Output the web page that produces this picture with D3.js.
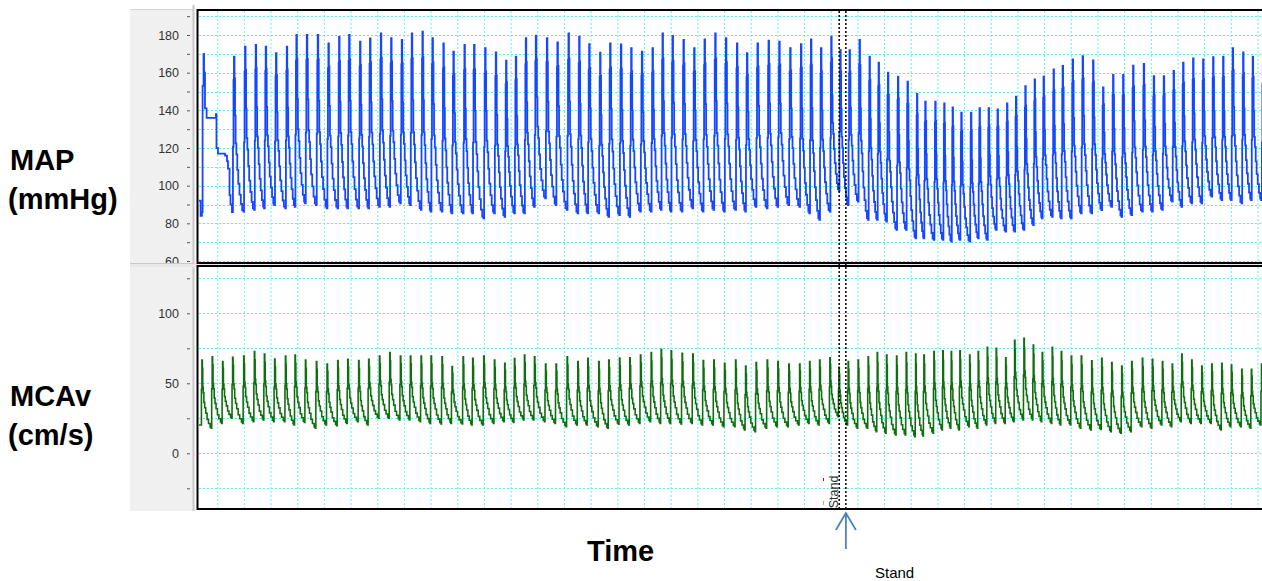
<!DOCTYPE html>
<html>
<head>
<meta charset="utf-8">
<script src="https://cdn.jsdelivr.net/npm/d3@7"></script>
<style>
  body { margin: 0; background: #fff; }
  .tick text { font-family: "Liberation Sans", Arial, sans-serif; font-size: 12.5px; fill: #333; }
  .bigLabel { font-family: "Liberation Sans", Arial, sans-serif; font-weight: bold; font-size: 29px; fill: #000; }
</style>
</head>
<body>
<div id="chart"></div>
<script>
// beat peak times (s), shared by both channels
var beatT = [-1.08, -0.31, 0.47, 1.22, 2.05, 2.85, 3.60, 4.37, 5.18, 5.90, 6.68, 7.50, 8.30, 9.10, 9.85,
  10.67, 11.42, 12.23, 13.00, 13.80, 14.55, 15.35, 16.10, 16.92, 17.67, 18.50, 19.22, 20.05, 20.85,
  21.62, 22.35, 23.10, 23.85, 24.68, 25.47, 26.30, 27.10, 27.85, 28.67, 29.42, 30.23, 31.00, 31.80,
  32.60, 33.35, 34.10, 34.92, 35.72, 36.50, 37.30, 38.10, 38.93, 39.68, 40.47, 41.30, 42.10, 42.92,
  43.73, 44.48, 45.23, 46.00, 46.68, 47.37, 48.12, 48.87, 49.55, 50.25, 51.00, 51.72, 52.43, 53.05,
  53.80, 54.47, 55.10, 55.75, 56.48, 57.12, 57.80, 58.47, 59.18, 59.85, 60.55, 61.25, 61.92, 62.67,
  63.35, 64.10, 64.85, 65.63, 66.38, 67.13, 67.88, 68.63, 69.43, 70.18, 70.93, 71.67, 72.38, 73.13,
  73.88, 74.63, 75.38, 76.10, 76.88, 77.60, 78.36];

// MAP (mmHg) systolic peak / diastolic foot per beat
var mapSys = [null, null, null, 168.5, 173.8, 174.7, 173.8, 170.3, 173.8, 180, 180, 180, 175.6, 179, 180,
  176.5, 178.2, 180.9, 178.3, 177.4, 180.9, 181.8, 178.3, 175.6, 171.2, 174.7, 174.7, 173, 170.8,
  166.4, 168.5, 178.3, 179.7, 178.3, 176.1, 180.9, 179.1, 175.1, 170.6, 175.6, 175, 173, 171.2, 173,
  180.9, 179.5, 177.4, 173, 177.7, 180.9, 178.3, 175.6, 170.3, 175.6, 177, 176.5, 173, 175.2, 177.7,
  173, 179.1, 172.1, 172, 177.4, 168.5, 165.3, 160, 157.9, 155.2, 148.7, 144.6, 144.6, 143.7, 141.6,
  138.8, 138.8, 141.1, 141.1, 140.5, 143.7, 147.2, 152.9, 156.4, 157.9, 161.8, 163.6, 167.1, 168.8,
  166.5, 152.2, 158.8, 158.8, 163.7, 164.6, 158.2, 158.2, 160.9, 165.3, 167.6, 167.1, 168.2, 168.5,
  173, 170.8, 168.5, 165];
var mapDia = [null, null, null, 86, 86.2, 87.1, 88, 89.7, 88, 88.8, 90.6, 89.7, 88, 88, 88, 88, 88, 88.8,
  88.8, 90.6, 89.7, 87.1, 86.2, 86.2, 85.3, 85.3, 85.3, 82.7, 85.3, 83.5, 85.3, 85.3, 88.8, 93.3,
  89.7, 87.1, 85.3, 85.3, 85.3, 83.5, 84.4, 83.5, 86.2, 86.2, 87.1, 86.2, 86.2, 88, 86.2, 87.1, 86.2,
  87.1, 86.2, 88.8, 88, 88.8, 89.7, 88.8, 85.3, 81.8, 86.2, 97.3, 89.7, 91.5, 81.8, 81.8, 80.9, 76.5,
  76.5, 72, 72, 71.2, 71.2, 70.3, 71.2, 70.3, 72, 71.2, 76.5, 75.6, 75.6, 76.5, 79.1, 82.7, 83.5, 82.7,
  82.7, 85.3, 85.3, 87, 88.8, 83.5, 84.4, 86.2, 86.2, 87.1, 91.5, 88.8, 90.6, 90.6, 94.2, 92.4, 92.4,
  90.6, 92.4, 92.4];
// MAP calibration step at the start of the record
var mapLeadT = [-1.40, -1.28, -1.18, -1.13, -1.06, -1.02, -0.95, -0.83, -0.13, -0.09, 0.02, 0.55, 0.70, 0.77, 0.89, 0.96, 1.07];
var mapLeadV = [92, 84, 86, 153, 170, 160, 141, 136, 138, 120, 117, 116, 113, 109, 95, 90, 86];

// MCAv (cm/s) peak / foot per beat
var mcaSys = [66.6, 69, 65.5, 68.6, 69.5, 72.6, 70.9, 67.3, 69.5, 70.2, 66.6, 65.5, 63.8, 66.2, 67.1,
  66.2, 67.1, 69.5, 71.9, 69.5, 69.5, 69.5, 69.5, 69, 62, 69, 67.9, 69.5, 66.6, 64.3, 67.6, 70.2, 69,
  63.8, 63.8, 69, 65.5, 67.9, 65.5, 66.6, 68, 68.3, 70.2, 71.9, 74.3, 73.3, 71.4, 70.9, 66.2, 66.6,
  64.3, 66.6, 62.4, 64.8, 66.6, 65.5, 63.8, 63.8, 65.5, 66.6, 68.3, 61.4, 65.5, 66.6, 69, 71.9, 70.2,
  69.5, 71.9, 70.9, 70.2, 72.6, 73.3, 72.6, 73.3, 70.2, 72.6, 75.7, 75, 68.3, 80.7, 82.1, 77.4, 71.9,
  75.7, 72.6, 69.5, 69.5, 66, 67.9, 64.8, 62.4, 65.5, 67.9, 67.1, 65.5, 63.8, 70.9, 66.6, 62.4, 63.8,
  64.3, 63.1, 60, 60, 63.8];
var mcaDia = [20.2, 17.9, 21.4, 25, 21.4, 22.6, 23.8, 22.6, 22.6, 20.2, 22, 17.9, 20.2, 19.7, 21.4, 22.6,
  20.2, 25, 25, 23.8, 23.8, 22.6, 21.4, 21, 21.4, 21, 20.2, 20.2, 21.4, 22.6, 22, 23.8, 23.8, 22.6,
  21.4, 19, 20.2, 20.2, 19, 17.9, 20.8, 20.2, 21.4, 22.6, 21.4, 21.4, 21, 21.4, 20.2, 20.2, 19, 19,
  16.7, 15.5, 17.9, 19, 19, 20.2, 21.4, 20.2, 21.4, 26.2, 20.2, 18, 17.9, 15.5, 14.3, 13.1, 13.1, 11.9,
  12.4, 14.3, 16.7, 17.9, 16.7, 19, 17.9, 20.2, 21.4, 21.4, 22.6, 23.8, 23.8, 22.6, 21.4, 20.2, 20.2,
  17.9, 16.7, 17, 15.5, 14.3, 15.5, 19, 17.9, 20.2, 19, 22.6, 21.4, 21.4, 21.4, 16.7, 19, 19, 17.9, 20.2];

// axis ticks and the stand event
var mapLabels = [60, 80, 100, 120, 140, 160, 180];
var mapMinor = [70, 90, 110, 130, 150, 170, 190];
var mcaLabels = [0, 50, 100];
var mcaMinor = [-25, 25, 75, 125];
var standT = [46.6, 47.1];

var svgWidth = 1262;
var svgHeight = 581;

var plotLeft = 199, plotRight = 1262;
var top1 = 11, bot1 = 263;
var top2 = 267, bot2 = 509;

var svg = d3.select("#chart").append("svg")
  .attr("width", svgWidth)
  .attr("height", svgHeight)
  .style("display", "block");

svg.append("rect").attr("width", svgWidth).attr("height", svgHeight).attr("fill", "#fff");

// scales
var x = d3.scaleLinear().domain([-1.4, 78.3]).range([plotLeft, plotRight]);
var yMap = d3.scaleLinear().domain([60, 180]).range([261, 35]);
var yMca = d3.scaleLinear().domain([0, 100]).range([453.3, 313.3]);

// grey axis strip on the left
svg.append("rect")
  .attr("x", 130).attr("y", 9).attr("width", 64).attr("height", bot2 + 2 - 9)
  .attr("fill", "#f0f0f0");
svg.append("line").attr("x1", 130).attr("x2", 194).attr("y1", 9.5).attr("y2", 9.5)
  .attr("stroke", "#d6d6d6");
svg.append("line").attr("x1", 193.5).attr("x2", 193.5).attr("y1", 5).attr("y2", bot2 + 2)
  .attr("stroke", "#c8c8c8").attr("stroke-width", 2);

var defs = svg.append("defs");
defs.append("clipPath").attr("id", "clip1").append("rect")
  .attr("x", plotLeft).attr("y", top1).attr("width", plotRight - plotLeft).attr("height", bot1 - top1);
defs.append("clipPath").attr("id", "clip2").append("rect")
  .attr("x", plotLeft).attr("y", top2).attr("width", plotRight - plotLeft).attr("height", bot2 - top2);

var gridTimes = d3.range(0, 79, 2);

function drawGrid(g, yTicks, yScale, y0, y1) {
  g.selectAll(".vg").data(gridTimes).enter().append("line")
    .attr("x1", d => x(d)).attr("x2", d => x(d))
    .attr("y1", y0).attr("y2", y1)
    .attr("stroke", "#5cf2f2").attr("stroke-width", 1).attr("stroke-dasharray", "2,2");
  g.selectAll(".hg").data(yTicks).enter().append("line")
    .attr("x1", plotLeft).attr("x2", plotRight)
    .attr("y1", d => Math.round(yScale(d)) + 0.5).attr("y2", d => Math.round(yScale(d)) + 0.5)
    .attr("stroke", "#5cf2f2").attr("stroke-width", 1).attr("stroke-dasharray", "2,2");
}

var g1 = svg.append("g").attr("clip-path", "url(#clip1)");
var g2 = svg.append("g").attr("clip-path", "url(#clip2)");
drawGrid(g1, mapLabels.concat(mapMinor), yMap, top1, bot1);
drawGrid(g2, mcaLabels.concat(mcaMinor), yMca, top2, bot2);

// beat waveform shapes: [fraction of beat period from peak, fraction of pulse height]
var mapRise = [[-0.16, 0], [-0.09, 0.42], [-0.04, 0.85], [0, 1]];
var mapFall = [[0.05, 0.86], [0.1, 0.62], [0.15, 0.44], [0.22, 0.37], [0.3, 0.27], [0.39, 0.18],
  [0.5, 0.11], [0.62, 0.05], [0.74, 0.01]];
var mcaRise = [[-0.1, 0], [-0.05, 0.55], [0, 1]];
var mcaFall = [[0.04, 0.88], [0.08, 0.6], [0.13, 0.52], [0.19, 0.38], [0.27, 0.3], [0.37, 0.22],
  [0.5, 0.13], [0.64, 0.07], [0.8, 0.02]];

function beatPoints(times, sys, dia, rise, fall, shift) {
  var pts = [];
  for (var i = 0; i < times.length; i++) {
    if (sys[i] == null) continue;
    var T = i < times.length - 1 ? times[i + 1] - times[i] : times[i] - times[i - 1];
    var tp = times[i] + shift;
    var next = i < times.length - 1 && dia[i + 1] != null ? dia[i + 1] : dia[i];
    rise.forEach(function(s) {
      pts.push([tp + s[0] * T, dia[i] + s[1] * (sys[i] - dia[i])]);
    });
    fall.forEach(function(s) {
      pts.push([tp + s[0] * T, next + s[1] * (sys[i] - next)]);
    });
  }
  return pts;
}

var mapPts = mapLeadT.map((t, i) => [t, mapLeadV[i]])
  .concat(beatPoints(beatT, mapSys, mapDia, mapRise, mapFall, 0));
var mcaPts = [[-1.4, mcaDia[0]]]
  .concat(beatPoints(beatT, mcaSys, mcaDia, mcaRise, mcaFall, -0.1));

var mapLine = d3.line().x(d => x(d[0])).y(d => yMap(d[1])).curve(d3.curveStepAfter);
var mcaLine = d3.line().x(d => x(d[0])).y(d => yMca(d[1])).curve(d3.curveStepAfter);

g1.append("path").datum(mapPts)
  .attr("d", mapLine)
  .attr("fill", "none")
  .attr("stroke", "#1447ff")
  .attr("stroke-width", 1.8);

g2.append("path").datum(mcaPts)
  .attr("d", mcaLine)
  .attr("fill", "none")
  .attr("stroke", "#0f6e0f")
  .attr("stroke-width", 1.6);

// axes
function addAxis(scale, labels, minor) {
  svg.append("g")
    .attr("transform", "translate(190,0)")
    .call(d3.axisLeft(scale).tickValues(labels).tickSize(3).tickPadding(8))
    .call(g => g.select(".domain").remove())
    .call(g => g.selectAll("line").attr("stroke", "#555"));
  svg.append("g")
    .attr("transform", "translate(190,0)")
    .call(d3.axisLeft(scale).tickValues(minor).tickSize(3).tickFormat(""))
    .call(g => g.select(".domain").remove())
    .call(g => g.selectAll("line").attr("stroke", "#555"));
}
addAxis(yMap, mapLabels, mapMinor);
addAxis(yMca, mcaLabels, mcaMinor);

// separator band between the panels
svg.append("rect")
  .attr("x", 130).attr("y", bot1).attr("width", svgWidth - 130).attr("height", top2 - bot1)
  .attr("fill", "#e8e8e8");
svg.append("line").attr("x1", 130).attr("x2", 194).attr("y1", bot1 + 0.5).attr("y2", bot1 + 0.5)
  .attr("stroke", "#c8c8c8");

// panel frames
[[top1, bot1], [top2, bot2]].forEach(function(p) {
  svg.append("rect")
    .attr("x", 197.5).attr("y", p[0] - 1).attr("width", svgWidth).attr("height", p[1] - p[0] + 1)
    .attr("fill", "none").attr("stroke", "#000").attr("stroke-width", 2);
});

// stand event markers
svg.selectAll(".stand").data(standT).enter().append("line")
  .attr("x1", d => x(d)).attr("x2", d => x(d))
  .attr("y1", top1).attr("y2", bot2)
  .attr("stroke", "#000").attr("stroke-width", 1.5).attr("stroke-dasharray", "2,2");

svg.append("text")
  .attr("transform", `translate(${x(standT[0]) - 1},492) rotate(-90)`)
  .attr("text-anchor", "middle")
  .style("font-family", "Liberation Sans, Arial, sans-serif")
  .style("font-size", "12.5px")
  .attr("fill", "#333")
  .text("Stand");
svg.append("line").attr("x1", 823.5).attr("x2", 823.5).attr("y1", 478).attr("y2", 481)
  .attr("stroke", "#c00000");
svg.append("line").attr("x1", 823.5).attr("x2", 823.5).attr("y1", 501).attr("y2", 505)
  .attr("stroke", "#e0a070");

// arrow below the plot
var ax = x(standT[1]);
svg.append("path")
  .attr("d", `M${ax},549 L${ax},514 M${ax - 10},530 L${ax},513 L${ax + 10},530`)
  .attr("fill", "none").attr("stroke", "#4f81bd").attr("stroke-width", 1.8);
svg.append("text")
  .attr("x", 875).attr("y", 578)
  .style("font-family", "Liberation Sans, Arial, sans-serif")
  .style("font-size", "15px")
  .text("Stand");

// channel and axis titles
var titles = [["MAP", 10, 170], ["(mmHg)", 8, 209], ["MCAv", 10, 406], ["(cm/s)", 8, 445], ["Time", 587, 561]];
titles.forEach(function(t) {
  svg.append("text").attr("class", "bigLabel")
    .attr("x", t[1]).attr("y", t[2]).text(t[0]);
});
</script>
</body>
</html>
